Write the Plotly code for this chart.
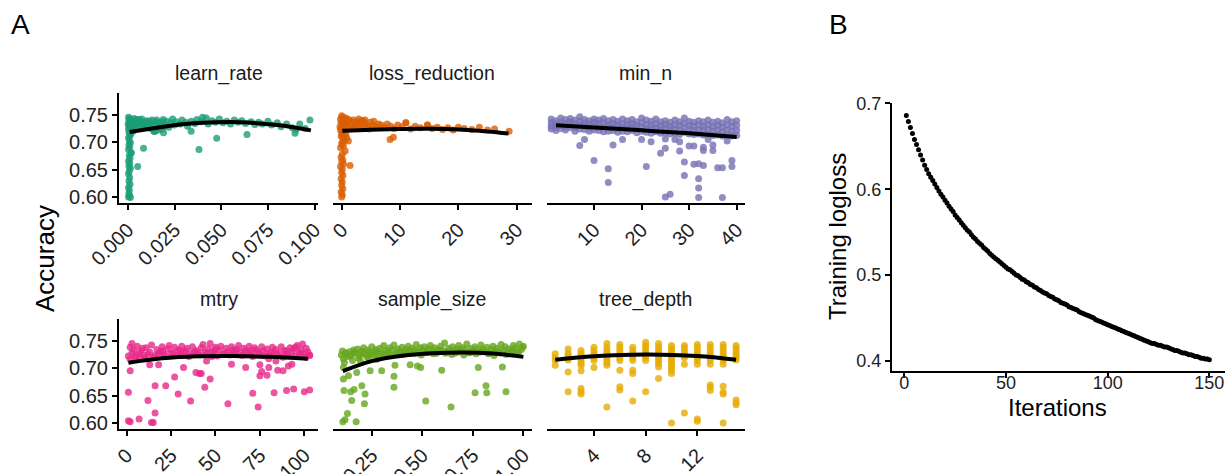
import plotly.graph_objects as go

# ---------------- Panel A: tuning results (accuracy vs hyperparameter) ----------------
lr_x = [
    0.0004, 0.0010, 0.0016, 0.0006, 0.0022, 0.0012, 0.0030, 0.0002, 0.0018, 0.0008,
    0.0026, 0.0014, 0.0004, 0.0020, 0.0010, 0.0028, 0.0006, 0.0016, 0.0012, 0.0004,
    0.0008, 0.0014, 0.0006, 0.0010, 0.0004, 0.0018, 0.0008, 0.0012, 0.0004, 0.0010,
    0.0006, 0.0014, 0.0008, 0.0004, 0.0010, 0.0006, 0.0012, 0.0004, 0.0008, 0.0006,
    0.0010, 0.0004, 0.0014,
    0.0035, 0.0045, 0.0055, 0.0065, 0.0075, 0.0085, 0.0095, 0.0105, 0.0115, 0.0125,
    0.0135, 0.0145, 0.0155, 0.0165, 0.0175, 0.0185, 0.0195, 0.0030, 0.0050, 0.0070,
    0.004, 0.005, 0.006, 0.007, 0.008, 0.009, 0.010, 0.011, 0.012, 0.013,
    0.014, 0.015, 0.016, 0.017, 0.018, 0.019, 0.020, 0.021, 0.022, 0.023,
    0.024, 0.025, 0.026, 0.028, 0.029, 0.031, 0.032, 0.034, 0.036, 0.037,
    0.039, 0.040, 0.042, 0.043, 0.045, 0.047, 0.049, 0.051, 0.053, 0.055,
    0.057, 0.059, 0.061, 0.063, 0.066, 0.068, 0.070, 0.072, 0.075, 0.077,
    0.080, 0.082, 0.085, 0.088, 0.090, 0.092, 0.095, 0.0975,
    0.0018, 0.0053, 0.0084, 0.0339, 0.0381, 0.0476, 0.0638, 0.0895, 0.0143, 0.0191,
]
lr_acc = [
    0.745, 0.743, 0.741, 0.739, 0.738, 0.736, 0.735, 0.733, 0.732, 0.730,
    0.729, 0.727, 0.725, 0.724, 0.722, 0.720, 0.718, 0.715, 0.712, 0.708,
    0.703, 0.699, 0.695, 0.691, 0.687, 0.681, 0.676, 0.671, 0.666, 0.662,
    0.657, 0.653, 0.648, 0.643, 0.636, 0.630, 0.624, 0.618, 0.613, 0.607,
    0.603, 0.601, 0.600,
    0.743, 0.725, 0.737, 0.731, 0.742, 0.727, 0.735, 0.730, 0.738, 0.725,
    0.732, 0.720, 0.740, 0.722, 0.731, 0.737, 0.728, 0.728, 0.741, 0.735,
    0.738, 0.733, 0.741, 0.728, 0.736, 0.731, 0.739, 0.726, 0.734, 0.740,
    0.720, 0.737, 0.729, 0.735, 0.724, 0.741, 0.732, 0.738, 0.727, 0.735,
    0.742, 0.731, 0.737, 0.733, 0.740, 0.736, 0.729, 0.738, 0.734, 0.741,
    0.737, 0.745, 0.744, 0.733, 0.739, 0.736, 0.742, 0.735, 0.738, 0.733,
    0.740, 0.736, 0.739, 0.734, 0.737, 0.732, 0.736, 0.733, 0.738, 0.731,
    0.735, 0.728, 0.733, 0.726, 0.723, 0.733, 0.725, 0.740,
    0.681, 0.656, 0.689, 0.720, 0.687, 0.707, 0.714, 0.716, 0.720, 0.717,
]
lr_fit_x = [0.001, 0.020, 0.040, 0.060, 0.080, 0.098]
lr_fit_y = [0.7185, 0.7285, 0.7350, 0.7362, 0.7310, 0.7214]

loss_x = [
    0.0, 0.2, -0.2, 0.4, 0.1, -0.1, 0.3, 0.0, 0.5, -0.3,
    0.2, 0.1, -0.2, 0.4, 0.0, 0.3, -0.1, 0.2, 0.5, 0.1,
    0.0, 0.3, -0.2, 0.6, 0.1, -0.1, 0.2, 0.0, 0.3, -0.2,
    0.1, 0.0, 0.2, -0.1, 0.1, 0.0, 0.2, -0.1, 0.1, 0.0,
    0.5, 0.8, 1.0, 1.3, 1.6, 1.9, 2.2, 2.5, 2.8, 3.1,
    3.5, 3.8, 4.1, 4.5, 4.9, 5.3, 5.8, 6.3, 6.8, 7.3,
    7.8, 8.4, 9.0, 9.6, 10.3, 11.0, 11.8, 12.6, 13.5, 14.7,
    15.5, 16.4, 17.3, 18.2, 19.1, 20.0, 21.0, 22.3, 23.6, 25.0,
    26.2, 28.7,
    0.7, 1.2, 1.5, 2.0, 2.4, 2.9, 3.3, 4.0, 4.7, 5.5,
    1.14, 0.86, 1.43, 8.29, 8.86, 11.0, 14.7, 3.54, 0.7,
]
loss_acc = [
    0.748, 0.745, 0.742, 0.740, 0.738, 0.736, 0.734, 0.732, 0.730, 0.728,
    0.726, 0.724, 0.722, 0.720, 0.717, 0.714, 0.711, 0.708, 0.704, 0.700,
    0.697, 0.693, 0.690, 0.684, 0.678, 0.673, 0.668, 0.664, 0.660, 0.656,
    0.651, 0.645, 0.640, 0.634, 0.628, 0.622, 0.616, 0.610, 0.605, 0.601,
    0.742, 0.735, 0.728, 0.738, 0.732, 0.725, 0.736, 0.730, 0.737, 0.733,
    0.739, 0.727, 0.734, 0.729, 0.736, 0.731, 0.727, 0.733, 0.731, 0.727,
    0.733, 0.729, 0.725, 0.731, 0.728, 0.735, 0.724, 0.729, 0.726, 0.731,
    0.725, 0.727, 0.723, 0.726, 0.722, 0.727, 0.725, 0.723, 0.727, 0.722,
    0.724, 0.720,
    0.744, 0.741, 0.724, 0.740, 0.727, 0.742, 0.726, 0.740, 0.724, 0.738,
    0.702, 0.708, 0.658, 0.705, 0.709, 0.735, 0.731, 0.739, 0.715,
]
loss_fit_x = [0.1, 5, 10, 15, 20, 25, 28.6]
loss_fit_y = [0.7205, 0.7225, 0.7238, 0.7242, 0.7232, 0.7195, 0.7157]

min_n_x = [
    1, 1, 1, 1, 2, 2, 2, 2, 3, 3, 3, 3, 4, 4, 4, 4, 5, 5, 5, 5,
    6, 6, 6, 6, 7, 7, 7, 7, 8, 8, 8, 8, 9, 9, 9, 9, 10, 10, 10, 10,
    11, 11, 11, 11, 12, 12, 12, 12, 13, 13, 13, 13, 14, 14, 14, 14, 15, 15, 15, 15,
    16, 16, 16, 16, 17, 17, 17, 17, 18, 18, 18, 18, 19, 19, 19, 19, 20, 20, 20, 20,
    21, 21, 21, 21, 22, 22, 22, 22, 23, 23, 23, 23, 24, 24, 24, 24, 25, 25, 25, 25,
    26, 26, 26, 26, 27, 27, 27, 27, 28, 28, 28, 28, 29, 29, 29, 29, 30, 30, 30, 30,
    31, 31, 31, 31, 32, 32, 32, 32, 33, 33, 33, 33, 34, 34, 34, 34, 35, 35, 35, 35,
    36, 36, 36, 36, 37, 37, 37, 37, 38, 38, 38, 38, 39, 39, 39, 39, 40, 40, 40, 40,
    7, 8, 10, 13, 13, 14, 16, 20, 21, 22,
    24, 25, 25, 25, 26, 27, 28, 28, 29, 29,
    30, 31, 31, 32, 32, 32, 32, 33, 33, 33,
    34, 35, 35, 36, 37, 37, 38, 39, 39,
]
min_n_acc = [
    0.742, 0.735, 0.729, 0.724, 0.739, 0.733, 0.727, 0.721, 0.744, 0.736, 0.730, 0.725,
    0.741, 0.734, 0.728, 0.722, 0.743, 0.737, 0.731, 0.726, 0.740, 0.733, 0.727, 0.720,
    0.746, 0.738, 0.731, 0.724, 0.741, 0.735, 0.729, 0.723, 0.739, 0.733, 0.726, 0.720,
    0.742, 0.736, 0.729, 0.722, 0.740, 0.734, 0.727, 0.721, 0.743, 0.735, 0.728, 0.719,
    0.739, 0.732, 0.726, 0.720, 0.741, 0.734, 0.727, 0.721, 0.738, 0.731, 0.725, 0.718,
    0.742, 0.733, 0.726, 0.720, 0.739, 0.732, 0.725, 0.719, 0.741, 0.734, 0.727, 0.721,
    0.737, 0.730, 0.724, 0.717, 0.744, 0.735, 0.727, 0.720, 0.740, 0.732, 0.725, 0.718,
    0.738, 0.731, 0.724, 0.716, 0.742, 0.733, 0.726, 0.719, 0.737, 0.730, 0.723, 0.716,
    0.739, 0.732, 0.725, 0.717, 0.736, 0.729, 0.722, 0.715, 0.740, 0.731, 0.724, 0.716,
    0.737, 0.730, 0.722, 0.714, 0.744, 0.734, 0.726, 0.718, 0.738, 0.730, 0.723, 0.715,
    0.736, 0.729, 0.721, 0.714, 0.739, 0.731, 0.723, 0.715, 0.737, 0.729, 0.722, 0.713,
    0.740, 0.731, 0.723, 0.714, 0.736, 0.728, 0.720, 0.712, 0.738, 0.730, 0.722, 0.713,
    0.735, 0.727, 0.719, 0.711, 0.741, 0.731, 0.722, 0.713, 0.737, 0.729, 0.720, 0.711,
    0.739, 0.730, 0.721, 0.712,
    0.694, 0.705, 0.667, 0.652, 0.627, 0.695, 0.705, 0.705, 0.656, 0.701,
    0.680, 0.689, 0.706, 0.601, 0.606, 0.705, 0.701, 0.684, 0.664, 0.640,
    0.693, 0.693, 0.660, 0.661, 0.634, 0.617, 0.600, 0.658, 0.691, 0.685,
    0.705, 0.695, 0.685, 0.654, 0.654, 0.600, 0.702, 0.667, 0.656,
]
min_n_fit_x = [2, 10, 20, 30, 40]
min_n_fit_y = [0.7306, 0.7268, 0.7215, 0.7160, 0.7095]

mtry_x = [
    1, 2, 3, 4, 5, 6, 7, 8, 9, 10,
    11, 13, 14, 16, 17, 19, 20, 21, 23, 24,
    26, 27, 29, 30, 31, 33, 34, 36, 37, 39,
    40, 42, 43, 44, 46, 47, 49, 50, 52, 53,
    54, 56, 57, 59, 60, 62, 63, 64, 66, 67,
    69, 70, 72, 73, 74, 76, 77, 79, 80, 82,
    83, 84, 86, 87, 89, 90, 92, 93, 94, 96,
    97, 98, 99, 100, 101, 102, 103, 3, 48, 95,
    2, 5, 8, 12, 15, 18, 22, 25, 28, 32,
    35, 38, 41, 45, 48, 51, 55, 58, 61, 65,
    68, 71, 75, 78, 81, 85, 88, 91, 95, 98,
    101, 103, 10, 30, 50, 70, 90, 20, 60, 80,
    2, 1, 2, 1, 7, 12, 14, 15, 16, 16,
    13, 18, 22, 27, 29, 32, 36, 39, 41, 42,
    44, 47, 45, 57, 59, 67, 71, 74, 75, 76,
    75, 79, 80, 83, 85, 88, 90, 91, 93, 94,
    100, 103, 84,
]
mtry_acc = [
    0.722, 0.738, 0.728, 0.733, 0.719, 0.740, 0.726, 0.731, 0.736, 0.724,
    0.737, 0.729, 0.742, 0.723, 0.734, 0.730, 0.739, 0.725, 0.735, 0.741,
    0.727, 0.738, 0.733, 0.724, 0.740, 0.731, 0.736, 0.726, 0.739, 0.732,
    0.728, 0.737, 0.743, 0.730, 0.735, 0.745, 0.727, 0.738, 0.733, 0.740,
    0.725, 0.736, 0.730, 0.739, 0.727, 0.734, 0.741, 0.729, 0.736, 0.731,
    0.740, 0.726, 0.737, 0.733, 0.728, 0.739, 0.731, 0.735, 0.724, 0.738,
    0.730, 0.734, 0.727, 0.739, 0.732, 0.725, 0.737, 0.729, 0.735, 0.741,
    0.728, 0.733, 0.744, 0.726, 0.736, 0.730, 0.723, 0.745, 0.721, 0.738,
    0.716, 0.722, 0.719, 0.725, 0.720, 0.726, 0.722, 0.728, 0.723, 0.727,
    0.721, 0.729, 0.724, 0.726, 0.730, 0.722, 0.727, 0.724, 0.729, 0.723,
    0.727, 0.721, 0.726, 0.722, 0.728, 0.724, 0.720, 0.725, 0.722, 0.727,
    0.720, 0.724, 0.718, 0.732, 0.734, 0.732, 0.731, 0.731, 0.733, 0.717,
    0.695, 0.656, 0.602, 0.604, 0.607, 0.641, 0.601, 0.601, 0.618, 0.668,
    0.706, 0.706, 0.668, 0.684, 0.653, 0.701, 0.640, 0.692, 0.690, 0.690,
    0.665, 0.680, 0.713, 0.635, 0.707, 0.701, 0.654, 0.629, 0.686, 0.694,
    0.706, 0.687, 0.701, 0.655, 0.696, 0.695, 0.659, 0.704, 0.707, 0.662,
    0.657, 0.660, 0.713,
]
mtry_fit_x = [1, 20, 40, 60, 80, 102]
mtry_fit_y = [0.7098, 0.7178, 0.7215, 0.7220, 0.7205, 0.7170]

sample_x = [
    0.10, 0.11, 0.12, 0.13, 0.14, 0.15, 0.16, 0.17, 0.18, 0.19,
    0.20, 0.21, 0.22, 0.23, 0.24, 0.25, 0.26, 0.27, 0.28, 0.29,
    0.30, 0.31, 0.32, 0.33, 0.34, 0.35, 0.36, 0.37, 0.38, 0.39,
    0.40, 0.41, 0.42, 0.43, 0.44, 0.45, 0.46, 0.47, 0.48, 0.49,
    0.50, 0.51, 0.52, 0.53, 0.54, 0.55, 0.56, 0.57, 0.58, 0.59,
    0.60, 0.61, 0.62, 0.63, 0.64, 0.65, 0.66, 0.67, 0.68, 0.69,
    0.70, 0.71, 0.72, 0.73, 0.74, 0.75, 0.76, 0.77, 0.78, 0.79,
    0.80, 0.81, 0.82, 0.83, 0.84, 0.85, 0.86, 0.87, 0.88, 0.89,
    0.90, 0.91, 0.92, 0.93, 0.94, 0.95, 0.96, 0.97, 0.98, 0.99,
    0.105, 0.125, 0.145, 0.165, 0.185, 0.205, 0.225, 0.245, 0.265, 0.285,
    0.315, 0.345, 0.375, 0.405, 0.435, 0.465, 0.495, 0.525, 0.555, 0.585,
    0.615, 0.645, 0.675, 0.705, 0.735, 0.765, 0.795, 0.825, 0.855, 0.885,
    0.915, 0.945, 0.975, 0.995, 0.115, 0.155, 0.195, 0.235, 0.275, 1.0,
    0.107, 0.118, 0.130, 0.173, 0.113, 0.151, 0.146, 0.163, 0.201, 0.217,
    0.214, 0.110, 0.135, 0.110, 0.176, 0.242, 0.299, 0.360, 0.360, 0.365,
    0.440, 0.476, 0.492, 0.517, 0.596, 0.642, 0.761, 0.777, 0.815, 0.819,
    0.896, 0.914,
]
sample_acc = [
    0.724, 0.717, 0.728, 0.721, 0.730, 0.725, 0.733, 0.727, 0.735, 0.722,
    0.731, 0.737, 0.726, 0.733, 0.729, 0.739, 0.724, 0.734, 0.730, 0.736,
    0.727, 0.741, 0.732, 0.728, 0.737, 0.733, 0.742, 0.726, 0.735, 0.731,
    0.738, 0.729, 0.734, 0.740, 0.727, 0.736, 0.732, 0.743, 0.730, 0.737,
    0.733, 0.739, 0.728, 0.735, 0.741, 0.731, 0.737, 0.727, 0.734, 0.740,
    0.732, 0.746, 0.729, 0.736, 0.733, 0.739, 0.727, 0.735, 0.741, 0.731,
    0.737, 0.733, 0.744, 0.728, 0.736, 0.731, 0.739, 0.734, 0.729, 0.742,
    0.735, 0.730, 0.738, 0.726, 0.734, 0.740, 0.732, 0.736, 0.729, 0.743,
    0.733, 0.739, 0.727, 0.735, 0.731, 0.741, 0.737, 0.730, 0.744, 0.734,
    0.731, 0.726, 0.722, 0.729, 0.718, 0.727, 0.721, 0.725, 0.729, 0.722,
    0.726, 0.723, 0.729, 0.725, 0.731, 0.727, 0.724, 0.729, 0.726, 0.731,
    0.727, 0.725, 0.729, 0.724, 0.728, 0.726, 0.730, 0.727, 0.723, 0.728,
    0.725, 0.729, 0.726, 0.738, 0.710, 0.714, 0.712, 0.718, 0.716, 0.740,
    0.602, 0.606, 0.617, 0.602, 0.659, 0.641, 0.657, 0.661, 0.668, 0.653,
    0.635, 0.680, 0.686, 0.701, 0.692, 0.695, 0.695, 0.685, 0.665, 0.705,
    0.706, 0.704, 0.701, 0.640, 0.696, 0.629, 0.655, 0.701, 0.668, 0.655,
    0.702, 0.657,
]
sample_fit_x = [0.107, 0.25, 0.40, 0.55, 0.70, 0.85, 1.0]
sample_fit_y = [0.6947, 0.7128, 0.7225, 0.7270, 0.7285, 0.7265, 0.7205]

depth_x = [
    1, 1, 1, 1,
    2, 2, 2, 2, 2, 2, 2,
    3, 3, 3, 3, 3, 3, 3, 3, 3, 3, 3,
    4, 4, 4, 4, 4, 4, 4,
    5, 5, 5, 5, 5, 5, 5, 5, 5, 5,
    6, 6, 6, 6, 6, 6, 6, 6, 6, 6,
    7, 7, 7, 7, 7, 7, 7, 7, 7,
    8, 8, 8, 8, 8, 8, 8, 8, 8,
    9, 9, 9, 9, 9, 9, 9, 9, 9, 9, 9,
    10, 10, 10, 10, 10, 10, 10, 10, 10, 10, 10, 10, 10,
    11, 11, 11, 11, 11, 11, 11, 11,
    12, 12, 12, 12, 12, 12, 12, 12, 12, 12,
    13, 13, 13, 13, 13, 13, 13, 13, 13, 13, 13,
    14, 14, 14, 14, 14, 14, 14, 14, 14, 14, 14, 14,
    15, 15, 15, 15, 15, 15, 15, 15, 15, 15,
]
depth_acc = [
    0.726, 0.719, 0.715, 0.705,
    0.735, 0.727, 0.723, 0.719, 0.715, 0.693, 0.657,
    0.732, 0.727, 0.723, 0.719, 0.714, 0.709, 0.705, 0.695, 0.663, 0.657, 0.653,
    0.738, 0.732, 0.727, 0.723, 0.719, 0.714, 0.701,
    0.745, 0.738, 0.732, 0.727, 0.723, 0.719, 0.714, 0.709, 0.705, 0.629,
    0.743, 0.738, 0.732, 0.727, 0.723, 0.719, 0.714, 0.696, 0.666, 0.660,
    0.738, 0.732, 0.727, 0.723, 0.719, 0.714, 0.696, 0.690, 0.640,
    0.747, 0.741, 0.737, 0.732, 0.727, 0.723, 0.719, 0.714, 0.657,
    0.745, 0.739, 0.735, 0.731, 0.726, 0.721, 0.717, 0.713, 0.708, 0.702, 0.681,
    0.741, 0.737, 0.732, 0.727, 0.723, 0.719, 0.714, 0.709, 0.705, 0.701, 0.696, 0.690, 0.600,
    0.741, 0.737, 0.732, 0.727, 0.723, 0.719, 0.707, 0.618,
    0.743, 0.738, 0.732, 0.727, 0.723, 0.719, 0.714, 0.707, 0.607, 0.603,
    0.743, 0.738, 0.732, 0.727, 0.723, 0.719, 0.714, 0.707, 0.669, 0.665, 0.659,
    0.743, 0.738, 0.732, 0.727, 0.723, 0.719, 0.714, 0.707, 0.667, 0.656, 0.653, 0.600,
    0.741, 0.737, 0.732, 0.727, 0.723, 0.719, 0.715, 0.642, 0.637, 0.633,
]
depth_fit_x = [1, 4, 8, 12, 15]
depth_fit_y = [0.7152, 0.7215, 0.7248, 0.7220, 0.7152]

# ---------------- Panel B: training log-loss by boosting iteration ----------------
iterations = list(range(1, 151))
train_logloss = [
    0.686, 0.679, 0.672, 0.665, 0.658, 0.652, 0.646, 0.640, 0.634, 0.628,
    0.623, 0.618, 0.614, 0.610, 0.606, 0.602, 0.598, 0.594, 0.591, 0.587,
    0.584, 0.580, 0.577, 0.574, 0.570, 0.567, 0.564, 0.561, 0.558, 0.555,
    0.552, 0.550, 0.547, 0.544, 0.542, 0.539, 0.537, 0.535, 0.532, 0.530,
    0.528, 0.525, 0.523, 0.521, 0.519, 0.517, 0.515, 0.513, 0.511, 0.509,
    0.507, 0.506, 0.504, 0.502, 0.500, 0.499, 0.497, 0.495, 0.494, 0.492,
    0.491, 0.489, 0.488, 0.486, 0.485, 0.483, 0.482, 0.480, 0.479, 0.478,
    0.476, 0.475, 0.474, 0.472, 0.471, 0.470, 0.468, 0.467, 0.466, 0.465,
    0.463, 0.462, 0.461, 0.460, 0.459, 0.457, 0.456, 0.455, 0.454, 0.453,
    0.452, 0.451, 0.450, 0.448, 0.447, 0.446, 0.445, 0.444, 0.443, 0.442,
    0.441, 0.440, 0.439, 0.438, 0.437, 0.436, 0.435, 0.434, 0.433, 0.432,
    0.431, 0.430, 0.429, 0.428, 0.427, 0.426, 0.425, 0.424, 0.423, 0.422,
    0.421, 0.420, 0.420, 0.419, 0.418, 0.418, 0.417, 0.416, 0.416, 0.415,
    0.414, 0.413, 0.412, 0.412, 0.411, 0.410, 0.409, 0.409, 0.408, 0.407,
    0.407, 0.406, 0.405, 0.405, 0.404, 0.403, 0.403, 0.402, 0.402, 0.401,
]

acc_ticks = [0.60, 0.65, 0.70, 0.75]
acc_ticktext = ["0.60", "0.65", "0.70", "0.75"]

W, H = 1226, 474
FONT = "Liberation Sans, Arial, Helvetica, sans-serif"
TICK_COLOR = "#222222"


def fx(px):
    return px / W


def fy(py):
    return 1 - py / H


facets = [
    dict(title="learn_rate", x=lr_x, y=lr_acc, fx_=lr_fit_x, fy_=lr_fit_y, color="#1B9E77",
         cols=(119, 318), rows=(93, 203.3), xr=[-0.0047, 0.1018],
         tv=[0, 0.025, 0.05, 0.075, 0.1], tt=["0.000", "0.025", "0.050", "0.075", "0.100"], left=True),
    dict(title="loss_reduction", x=loss_x, y=loss_acc, fx_=loss_fit_x, fy_=loss_fit_y, color="#D95F02",
         cols=(333.3, 531.7), rows=(93, 203.3), xr=[-1.44, 32.57],
         tv=[0, 10, 20, 30], tt=["0", "10", "20", "30"], left=False),
    dict(title="min_n", x=min_n_x, y=min_n_acc, fx_=min_n_fit_x, fy_=min_n_fit_y, color="#7570B3",
         cols=(546.7, 745), rows=(93, 203.3), xr=[0.05, 41.75],
         tv=[10, 20, 30, 40], tt=["10", "20", "30", "40"], left=False),
    dict(title="mtry", x=mtry_x, y=mtry_acc, fx_=mtry_fit_x, fy_=mtry_fit_y, color="#E7298A",
         cols=(119, 318), rows=(319.3, 428.7), xr=[-4.3, 107.7],
         tv=[0, 25, 50, 75, 100], tt=["0", "25", "50", "75", "100"], left=True),
    dict(title="sample_size", x=sample_x, y=sample_acc, fx_=sample_fit_x, fy_=sample_fit_y, color="#66A61E",
         cols=(333.3, 531.7), rows=(319.3, 428.7), xr=[0.060, 1.041],
         tv=[0.25, 0.5, 0.75, 1.0], tt=["0.25", "0.50", "0.75", "1.00"], left=False),
    dict(title="tree_depth", x=depth_x, y=depth_acc, fx_=depth_fit_x, fy_=depth_fit_y, color="#E6AB02",
         cols=(546.7, 745), rows=(319.3, 428.7), xr=[0.34, 15.69],
         tv=[4, 8, 12], tt=["4", "8", "12"], left=False),
]

fig = go.Figure()
layout = dict(
    width=W, height=H, autosize=False, margin=dict(l=0, r=0, t=0, b=0, pad=0),
    paper_bgcolor="white", plot_bgcolor="white", showlegend=False,
    font=dict(family=FONT, color="#000000"),
)
annotations = []

for i, f in enumerate(facets, start=1):
    xa, ya = f"x{i}", f"y{i}"
    fig.add_trace(go.Scatter(
        x=f["x"], y=f["y"], mode="markers", xaxis=xa, yaxis=ya,
        marker=dict(color=f["color"], size=7, opacity=0.8, line=dict(width=0)),
        hoverinfo="skip",
    ))
    fig.add_trace(go.Scatter(
        x=f["fx_"], y=f["fy_"], mode="lines", xaxis=xa, yaxis=ya,
        line=dict(color="black", width=4, shape="spline", smoothing=1.0),
        hoverinfo="skip",
    ))
    layout[f"xaxis{i}"] = dict(
        domain=[fx(f["cols"][0]), fx(f["cols"][1])], anchor=ya, range=f["xr"],
        tickmode="array", tickvals=f["tv"], ticktext=f["tt"], tickangle=-45,
        showline=True, linecolor="black", linewidth=2,
        ticks="outside", ticklen=5, tickwidth=2, tickcolor="black",
        tickfont=dict(size=20, color=TICK_COLOR, family=FONT),
        showgrid=False, zeroline=False, automargin=False,
    )
    layout[f"yaxis{i}"] = dict(
        domain=[fy(f["rows"][1]), fy(f["rows"][0])], anchor=xa, range=[0.5895, 0.789],
        tickmode="array", tickvals=acc_ticks, ticktext=acc_ticktext,
        showline=f["left"], linecolor="black", linewidth=2,
        ticks="outside" if f["left"] else "", ticklen=5, tickwidth=2, tickcolor="black",
        showticklabels=f["left"],
        tickfont=dict(size=20, color=TICK_COLOR, family=FONT),
        showgrid=False, zeroline=False, automargin=False,
    )
    annotations.append(dict(
        text=f["title"], xref="paper", yref="paper",
        x=fx((f["cols"][0] + f["cols"][1]) / 2), y=fy(f["rows"][0] - 20),
        xanchor="center", yanchor="middle", showarrow=False,
        font=dict(size=19.5, color="#1A1A1A", family=FONT),
    ))

# Panel B
fig.add_trace(go.Scatter(
    x=iterations, y=train_logloss, mode="markers", xaxis="x7", yaxis="y7",
    marker=dict(color="black", size=5, line=dict(width=0)), hoverinfo="skip",
))
layout["xaxis7"] = dict(
    domain=[fx(891.7), fx(1225)], anchor="y7", range=[-6.2, 157.7],
    tickmode="array", tickvals=[0, 50, 100, 150], ticktext=["0", "50", "100", "150"],
    showline=True, linecolor="black", linewidth=1.5,
    ticks="outside", ticklen=5, tickwidth=1.5, tickcolor="black",
    tickfont=dict(size=18, color=TICK_COLOR, family=FONT), ticklabelstandoff=-10,
    showgrid=False, zeroline=False, automargin=False,
)
layout["yaxis7"] = dict(
    domain=[fy(371), fy(103)], anchor="x7", range=[0.388, 0.7005],
    tickmode="array", tickvals=[0.4, 0.5, 0.6, 0.7], ticktext=["0.4", "0.5", "0.6", "0.7"],
    showline=True, linecolor="black", linewidth=1.5,
    ticks="outside", ticklen=5, tickwidth=1.5, tickcolor="black",
    tickfont=dict(size=18, color=TICK_COLOR, family=FONT),
    showgrid=False, zeroline=False, automargin=False,
)

annotations += [
    dict(text="Accuracy", xref="paper", yref="paper", x=fx(45), y=fy(259), textangle=-90,
         xanchor="center", yanchor="middle", showarrow=False, font=dict(size=26, family=FONT)),
    dict(text="A", xref="paper", yref="paper", x=fx(20), y=fy(24),
         xanchor="center", yanchor="middle", showarrow=False, font=dict(size=28, family=FONT)),
    dict(text="B", xref="paper", yref="paper", x=fx(838), y=fy(24),
         xanchor="center", yanchor="middle", showarrow=False, font=dict(size=28, family=FONT)),
    dict(text="Training logloss", xref="paper", yref="paper", x=fx(837), y=fy(237), textangle=-90,
         xanchor="center", yanchor="middle", showarrow=False, font=dict(size=24, family=FONT)),
    dict(text="Iterations", xref="paper", yref="paper", x=fx(1057), y=fy(407),
         xanchor="center", yanchor="middle", showarrow=False, font=dict(size=24, family=FONT)),
]
layout["annotations"] = annotations
fig.update_layout(**layout)

fig.write_html("out.html")
